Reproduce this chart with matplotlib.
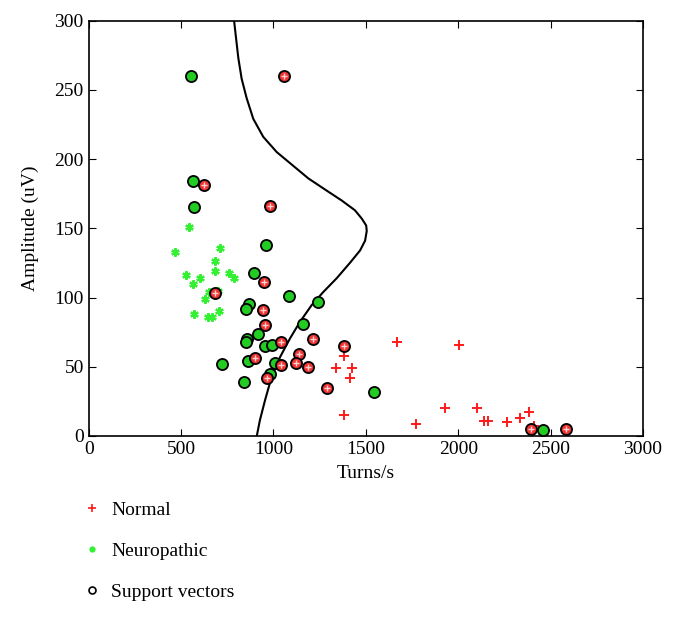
import numpy as np
import matplotlib.pyplot as plt
from matplotlib.lines import Line2D

plt.rcParams['font.family'] = ['Liberation Serif', 'DejaVu Serif']

# Normal class (not support vectors)
normal_t = [1382, 1337, 1427, 1413, 1382, 1671, 2006, 1929, 2100, 1770,
            2140, 2163, 2266, 2336, 2383, 2410]
normal_a = [58, 49, 49, 42, 15, 68, 66, 20, 20, 9,
            11, 11, 10, 13, 17, 7]

# Normal class support vectors
normal_sv_t = [1059, 624, 983, 684, 949, 944, 955, 1039, 1214, 1382,
               1137, 899, 1043, 1124, 1189, 964, 1288, 2396, 2582]
normal_sv_a = [260, 181, 166, 103, 111, 91, 80, 68, 70, 65,
               59, 56, 51, 53, 50, 42, 35, 5, 5]

# Neuropathic class (not support vectors)
neuro_t = [543, 468, 711, 686, 682, 758, 789, 527, 603, 565,
           652, 699, 630, 572, 646, 668, 707]
neuro_a = [151, 133, 136, 126, 119, 118, 114, 116, 114, 110,
           104, 105, 99, 88, 86, 86, 90]

# Neuropathic class support vectors
neuro_sv_t = [554, 567, 572, 962, 897, 1084, 1241, 868, 852, 1162,
              915, 857, 853, 953, 991, 723, 861, 1007, 983, 841, 1544, 2461]
neuro_sv_a = [260, 184, 165, 138, 118, 101, 97, 95, 92, 81,
              74, 70, 68, 65, 66, 52, 54, 53, 45, 39, 32, 4]

# Decision boundary
bound_t = [787, 798, 810, 828, 855, 891, 945, 1018, 1099, 1189, 1279, 1370,
           1441, 1478, 1502, 1505, 1496, 1469, 1414, 1343, 1270, 1207, 1144,
           1090, 1036, 991, 955, 927, 910]
bound_a = [300, 287, 273, 258, 244, 229, 216, 205, 196, 186, 178, 170,
           163, 157, 152, 148, 141, 134, 125, 114, 104, 94.5, 82.5,
           70.5, 57, 43, 26, 11.5, 0]

fig = plt.figure(figsize=(6.74, 6.18), dpi=100)
ax = fig.add_axes([0.1315, 0.2945, 0.8225, 0.6723])

red = '#ff1a1a'
green = '#33f033'

ax.plot(bound_t, bound_a, color='black', lw=1.5, zorder=2,
        solid_joinstyle='round')

ax.plot(normal_t, normal_a, '+', color=red, ms=7, mew=1.4, ls='none', zorder=3)
ax.plot(neuro_t, neuro_a, marker=(6, 2, 0), color=green, ms=6, mew=1.6,
        ls='none', zorder=3)

ax.plot(neuro_sv_t, neuro_sv_a, 'o', mfc='#22cc22', mec='black', ms=8, mew=1.3,
        ls='none', zorder=4)
ax.plot(normal_sv_t, normal_sv_a, 'o', mfc='#ee3333', mec='black', ms=8, mew=1.3,
        ls='none', zorder=4)
ax.plot(normal_sv_t, normal_sv_a, '+', color='#ffd0d0', ms=5, mew=1.0,
        ls='none', zorder=5)

ax.set_xlim(0, 3000)
ax.set_ylim(0, 300)
ax.set_xticks(np.arange(0, 3001, 500))
ax.set_yticks(np.arange(0, 301, 50))
ax.tick_params(direction='in', top=True, right=True, length=5, labelsize=14)
for s in ax.spines.values():
    s.set_linewidth(1.2)

ax.set_xlabel('Turns/s', fontsize=14, labelpad=5)
ax.set_ylabel('Amplitude (uV)', fontsize=14, labelpad=11)

handles = [
    Line2D([], [], marker='+', color=red, ls='none', ms=6, mew=1.2),
    Line2D([], [], marker='o', color=green, ls='none', ms=3.5),
    Line2D([], [], marker='o', mfc='none', mec='black', ls='none', ms=5, mew=1.2),
]
fig.legend(handles, ['Normal', 'Neuropathic', 'Support vectors'],
           loc='upper left', bbox_to_anchor=(0.11, 0.201), frameon=False,
           fontsize=14, handlelength=1.0, handletextpad=0.5, labelspacing=1.2,
           borderaxespad=0)

fig.savefig('out.png', dpi=100)
